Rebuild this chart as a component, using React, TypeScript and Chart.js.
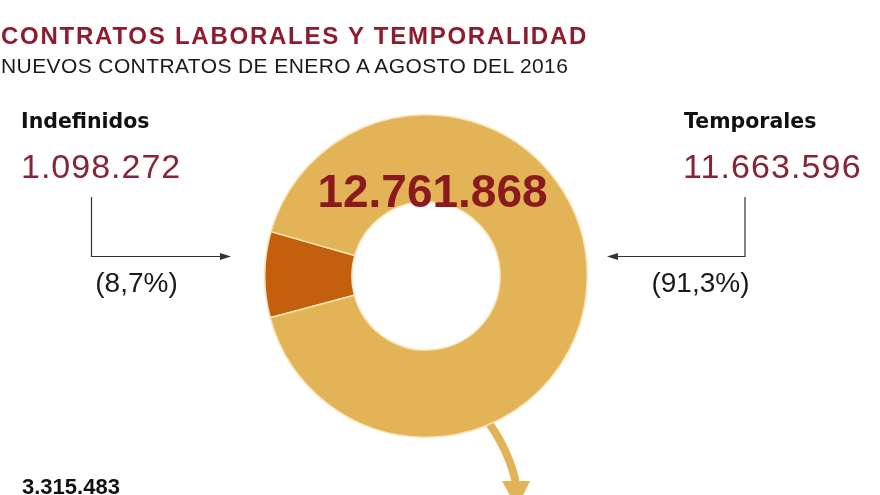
import React, { useEffect, useRef } from "react";
import { Chart, registerables } from "chart.js";

Chart.register(...registerables);

const categories = ["Indefinidos", "Temporales"];
const contractValues = [1098272, 11663596];
const percentLabels = ["(8,7%)", "(91,3%)"];
const sliceColors = ["#C4600D", "#E2B457"];
const bottomFigure = "3.315.483";

const W = 880;
const H = 495;

function fmtThousands(n: number): string {
  const s = Math.round(n).toString();
  return s.replace(/\B(?=(\d{3})+(?!\d))/g, ".");
}

const total = contractValues.reduce((a, b) => a + b, 0);

const arrowHead = (ctx: CanvasRenderingContext2D, x: number, y: number, dir: number, len: number, half: number) => {
  ctx.beginPath();
  ctx.moveTo(x, y);
  ctx.lineTo(x - dir * len, y - half);
  ctx.lineTo(x - dir * len, y + half);
  ctx.closePath();
  ctx.fill();
};

const decorPlugin = {
  id: "decor",
  beforeDatasetsDraw(chart: any) {
    const ctx = chart.ctx as CanvasRenderingContext2D;
    const { left, right, top, bottom } = chart.chartArea;
    const cx = (left + right) / 2;
    const cy = (top + bottom) / 2;
    ctx.save();
    ctx.strokeStyle = "#E2B457";
    ctx.fillStyle = "#E2B457";
    ctx.lineWidth = 8;
    ctx.beginPath();
    ctx.moveTo(cx + 58, cy + 140);
    ctx.quadraticCurveTo(cx + 84, cy + 175, cx + 90, cy + 208);
    ctx.stroke();
    ctx.beginPath();
    ctx.moveTo(cx + 76, cy + 205);
    ctx.lineTo(cx + 104, cy + 205);
    ctx.lineTo(cx + 91, cy + 232);
    ctx.closePath();
    ctx.fill();
    ctx.restore();
  },
  afterDraw(chart: any) {
    const ctx = chart.ctx as CanvasRenderingContext2D;
    ctx.save();
    ctx.strokeStyle = "#333333";
    ctx.fillStyle = "#333333";
    ctx.lineWidth = 1.2;
    ctx.beginPath();
    ctx.moveTo(91.5, 197);
    ctx.lineTo(91.5, 256.5);
    ctx.lineTo(222, 256.5);
    ctx.stroke();
    arrowHead(ctx, 231, 256.5, 1, 11, 3.5);
    ctx.beginPath();
    ctx.moveTo(745, 197);
    ctx.lineTo(745, 256.5);
    ctx.lineTo(616, 256.5);
    ctx.stroke();
    arrowHead(ctx, 607, 256.5, -1, 11, 3.5);
    ctx.restore();
  },
};

const abs = (left: number, top: number, extra: React.CSSProperties): React.CSSProperties => ({
  position: "absolute",
  left,
  top,
  lineHeight: 1,
  whiteSpace: "nowrap",
  margin: 0,
  ...extra,
});

export default function App() {
  const ref = useRef<HTMLCanvasElement | null>(null);

  useEffect(() => {
    if (!ref.current) return;
    const chart = new Chart(ref.current, {
      type: "doughnut",
      data: {
        labels: categories,
        datasets: [
          {
            data: contractValues,
            backgroundColor: sliceColors,
            borderColor: "#FBE4B4",
            borderWidth: 1.5,
          },
        ],
      },
      options: {
        responsive: false,
        maintainAspectRatio: false,
        animation: false,
        rotation: 255,
        cutout: "46%",
        layout: { padding: { left: 264, top: 114, right: 292, bottom: 57 } },
        plugins: {
          legend: { display: false },
          tooltip: { enabled: false },
          title: { display: false },
        },
      },
      plugins: [decorPlugin],
    });
    return () => chart.destroy();
  }, []);

  const bold = "'DejaVu Sans', sans-serif";
  const sans = "'Liberation Sans', Arial, sans-serif";

  return (
    <div style={{ position: "absolute", left: 0, top: 0, width: W, height: H, overflow: "hidden", background: "#ffffff" }}>
      <canvas ref={ref} width={W} height={H} style={{ position: "absolute", left: 0, top: 0, width: W, height: H }} />
      <div style={abs(1, 23.5, { fontFamily: sans, fontWeight: 700, fontSize: 24, letterSpacing: 1.75, color: "#8E1B2E" })}>
        CONTRATOS LABORALES Y TEMPORALIDAD
      </div>
      <div style={abs(1, 54.5, { fontFamily: sans, fontSize: 21, letterSpacing: 0.4, color: "#1a1a1a" })}>
        NUEVOS CONTRATOS DE ENERO A AGOSTO DEL 2016
      </div>

      <div style={abs(21, 111, { fontFamily: bold, fontWeight: 700, fontSize: 20.5, color: "#111" })}>{categories[0]}</div>
      <div style={abs(21, 148.5, { fontFamily: sans, fontSize: 34, letterSpacing: 1, color: "#862438" })}>{fmtThousands(contractValues[0])}</div>
      <div style={abs(136.5, 269, { fontFamily: sans, fontSize: 28, color: "#1a1a1a", transform: "translateX(-50%)" })}>
        {percentLabels[0]}
      </div>

      <div style={abs(684, 111, { fontFamily: bold, fontWeight: 700, fontSize: 20.5, color: "#111" })}>{categories[1]}</div>
      <div style={abs(683, 148.5, { fontFamily: sans, fontSize: 34, letterSpacing: 1.1, color: "#862438" })}>{fmtThousands(contractValues[1])}</div>
      <div style={abs(700.5, 269, { fontFamily: sans, fontSize: 28, color: "#1a1a1a", transform: "translateX(-50%)" })}>
        {percentLabels[1]}
      </div>

      <div style={abs(432.5, 168, { fontFamily: sans, fontWeight: 700, fontSize: 46, color: "#8B1A1E", transform: "translateX(-50%)" })}>
        {fmtThousands(total)}
      </div>

      <div style={abs(22, 475.5, { fontFamily: sans, fontWeight: 700, fontSize: 22, color: "#111" })}>{bottomFigure}</div>
    </div>
  );
}
